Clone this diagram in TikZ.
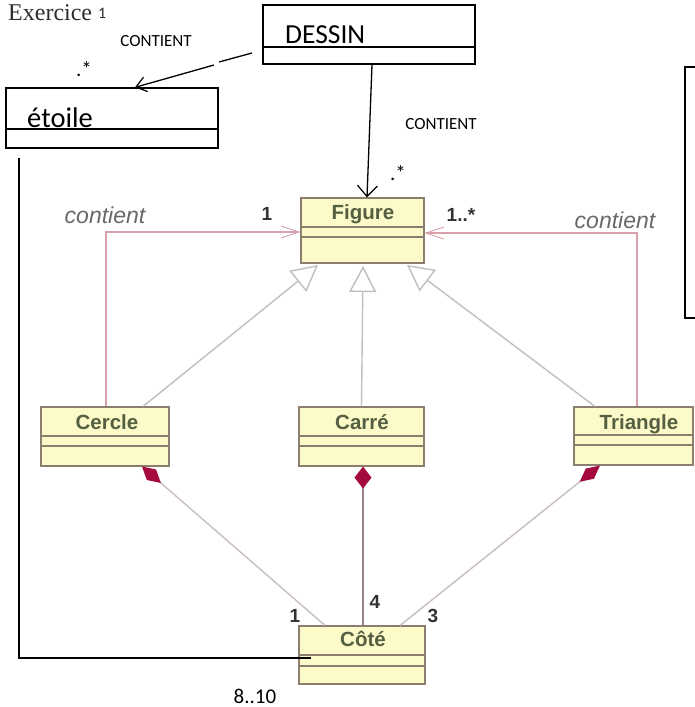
\documentclass[tikz,border=0pt]{standalone}
\usepackage{fontspec}
\setmainfont{Liberation Serif}
\newfontfamily\calibri{Carlito}
\newfontfamily\arialf{Liberation Sans}
\usetikzlibrary{arrows.meta}
\definecolor{boxfill}{RGB}{252,250,200}
\definecolor{boxdraw}{RGB}{140,125,110}
\definecolor{umltext}{RGB}{85,95,65}
\definecolor{multc}{RGB}{50,50,50}
\definecolor{rolec}{RGB}{105,105,105}
\definecolor{assocc}{RGB}{215,160,170}
\definecolor{genc}{RGB}{195,190,190}
\definecolor{compc}{RGB}{200,190,190}
\definecolor{compdark}{RGB}{150,130,135}
\definecolor{diamc}{RGB}{165,10,60}
\tikzset{
  umlbox/.style={draw=boxdraw, fill=boxfill, line width=1.1pt, inner sep=0pt},
  umldiv/.style={draw=boxdraw, line width=1.1pt},
  umltitle/.style={anchor=base, text=umltext, font=\arialf\bfseries\fontsize{20.5}{20.5}\selectfont, inner sep=0pt},
  mult/.style={anchor=base, text=multc, font=\arialf\bfseries\fontsize{19}{19}\selectfont, inner sep=0pt},
  role/.style={anchor=base, text=rolec, font=\arialf\itshape\fontsize{23}{23}\selectfont, inner sep=0pt},
  sketchbox/.style={draw=black, line width=1.3pt, inner sep=0pt},
  sketchline/.style={draw=black, line width=1.3pt},
  notetext/.style={anchor=base, text=black, font=\calibri\fontsize{17}{17}\selectfont, inner sep=0pt},
  startext/.style={anchor=base, text=black, font=\calibri\fontsize{21}{21}\selectfont, inner sep=0pt},
  bigtext/.style={anchor=base west, text=black, font=\calibri\fontsize{28.5}{28.5}\selectfont, inner sep=0pt},
  assoc/.style={draw=assocc, line width=1.1pt, -{Straight Barb[length=18pt,width=12pt,line width=0.9pt]}},
  gen/.style={draw=genc, line width=1.4pt, -{Triangle[length=26pt,width=27pt,fill=white,line width=1.4pt]}},
  comp/.style={draw=compc, line width=1.4pt, -{Diamond[length=25pt,width=14pt,fill=diamc,color=diamc]}},
  compv/.style={draw=compdark, line width=1.6pt, -{Diamond[length=22pt,width=17pt,fill=diamc,color=diamc]}},
  sketcharrow/.style={draw=black, line width=1.3pt, -{Straight Barb[length=11pt,width=20pt,line width=1.2pt]}},
}
\begin{document}
\begin{tikzpicture}[x=1pt,y=-1pt]
\clip (0,0) rectangle (695,707);
\fill[white] (0,0) rectangle (695,707);

% ---------- title ----------
\node[anchor=base west, inner sep=0pt, text={rgb,255:red,45;green,45;blue,45}, font=\fontsize{24}{24}\selectfont] (title) at (8,20) {Exercice \raisebox{2pt}{\calibri\fontsize{16}{16}\selectfont 1}};

% ---------- sketch boxes ----------
\node[sketchbox, minimum width=212pt, minimum height=59pt] (dessin) at (369,34.5) {};
\draw[sketchline] (dessin.west |- 0,47) -- (dessin.east |- 0,47);
\node[bigtext, font=\calibri\fontsize{27.5}{27.5}\selectfont] (dessinlabel) at (285,43) {DESSIN};

\node[sketchbox, minimum width=212pt, minimum height=60pt] (etoile) at (112,118) {};
\draw[sketchline] (etoile.west |- 0,129) -- (etoile.east |- 0,129);
\node[bigtext] (etoilelabel) at (27,127) {étoile};

\node[sketchbox, minimum width=30pt, minimum height=251pt] (frame) at (700,192.5) {};

% ---------- UML boxes ----------
\node[umlbox, minimum width=123pt, minimum height=65pt] (figure) at (362.5,230.5) {};
\draw[umldiv] (figure.west |- 0,227) -- (figure.east |- 0,227);
\draw[umldiv] (figure.west |- 0,237) -- (figure.east |- 0,237);
\node[umltitle] (figurelabel) at (363,219) {Figure};

\node[umlbox, minimum width=128pt, minimum height=59pt] (cercle) at (105,436.5) {};
\draw[umldiv] (cercle.west |- 0,436) -- (cercle.east |- 0,436);
\draw[umldiv] (cercle.west |- 0,446) -- (cercle.east |- 0,446);
\node[umltitle] (cerclelabel) at (107,429) {Cercle};

\node[umlbox, minimum width=125pt, minimum height=59pt] (carre) at (361.5,436.5) {};
\draw[umldiv] (carre.west |- 0,436) -- (carre.east |- 0,436);
\draw[umldiv] (carre.west |- 0,446) -- (carre.east |- 0,446);
\node[umltitle] (carrelabel) at (362,429) {Carré};

\node[umlbox, minimum width=119pt, minimum height=58pt] (triangle) at (633.5,436) {};
\draw[umldiv] (triangle.west |- 0,435) -- (triangle.east |- 0,435);
\draw[umldiv] (triangle.west |- 0,445) -- (triangle.east |- 0,445);
\node[umltitle] (trianglelabel) at (639,429) {Triangle};

\node[umlbox, minimum width=126pt, minimum height=58pt] (cote) at (362,655) {};
\draw[umldiv] (cote.west |- 0,655) -- (cote.east |- 0,655);
\draw[umldiv] (cote.west |- 0,666) -- (cote.east |- 0,666);
\node[umltitle] (cotelabel) at (363,646) {Côté};

% ---------- UML associations ----------
\draw[assoc] (cercle.north -| 106,0) |- (figure.west |- 0,232);
\draw[assoc] (triangle.north -| 637,0) |- (figure.east |- 0,233);
\node[role] (roleleft) at (105,223) {contient};
\node[role] (roleright) at (615,228) {contient};
\node[mult] (m1) at (267,220) {1};
\node[mult] (m2) at (461,221) {1..*};

% ---------- generalisations ----------
\draw[gen] (cercle.north -| 143,0) -- (318,265);
\draw[gen] (carre.north) -- (363,266);
\draw[gen] (triangle.north -| 595,0) -- (407,265);

% ---------- compositions ----------
\draw[comp] (cote.north -| 325,0) -- (cercle.south -| 142,0);
\draw[compv] (cote.north -| 363,0) -- (carre.south -| 363,0);
\draw[comp, -{Diamond[length=26pt,width=13pt,fill=diamc,color=diamc]}] (cote.north -| 400,0) -- (triangle.south -| 600,0);
\node[mult] (m3) at (295,622) {1};
\node[mult] (m4) at (375,608) {4};
\node[mult] (m5) at (433,622) {3};

% ---------- sketch connectors ----------
\coordinate (ds1) at (252,53);
\coordinate (ds2) at (219,62);
\coordinate (ds3) at (214,65);
\draw[sketchline] (ds1) -- (ds2);
\draw[sketcharrow, -{Straight Barb[length=10pt,width=15pt,line width=1.2pt]}] (ds3) -- (etoile.north -| 135,0);
\draw[sketcharrow] (dessin.south -| 372,0) -- (figure.north -| 367,0);

\coordinate (es) at (19,158);
\coordinate (cotein) at (311,658);
\draw[sketchline, line width=1.2pt] (es) |- (cotein);

% ---------- sketch texts ----------
\node[notetext] (cont1) at (156,46) {CONTIENT};
\node[notetext] (cont2) at (441,129) {CONTIENT};
\node[startext] (star1) at (84,76) {.*};
\node[startext] (star2) at (398,180) {.*};
\node[notetext, font=\calibri\fontsize{21}{21}\selectfont] (range) at (255,703) {8..10};
\end{tikzpicture}
\end{document}
